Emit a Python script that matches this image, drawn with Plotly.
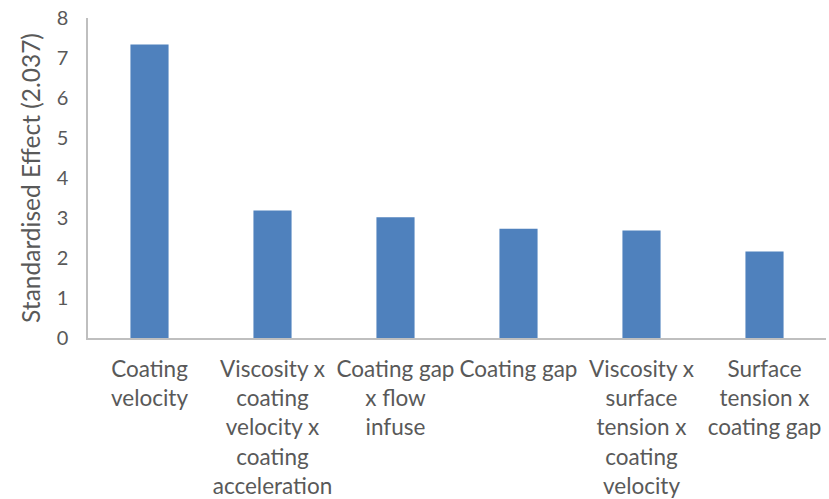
import plotly.graph_objects as go

categories = [
    "Coating<br>velocity",
    "Viscosity x<br>coating<br>velocity x<br>coating<br>acceleration",
    "Coating gap<br>x flow<br>infuse",
    "Coating gap",
    "Viscosity x<br>surface<br>tension x<br>coating<br>velocity",
    "Surface<br>tension x<br>coating gap",
]
values = [7.34, 3.19, 3.02, 2.73, 2.69, 2.16]
y_ticks = [0, 1, 2, 3, 4, 5, 6, 7, 8]

TEXT = "#595959"
FONT = "Lato"

fig = go.Figure(
    go.Bar(
        x=categories,
        y=values,
        marker=dict(color="#4F81BD", line=dict(width=0)),
        width=0.31,
        hoverinfo="skip",
    )
)

fig.update_layout(
    width=829,
    height=499,
    margin=dict(l=88, r=3, t=18, b=161),
    paper_bgcolor="white",
    plot_bgcolor="white",
    showlegend=False,
    font=dict(family=FONT, color=TEXT),
    bargap=0.69,
)

fig.update_xaxes(
    showline=True,
    linecolor="#BFBFBF",
    linewidth=1.5,
    showgrid=False,
    ticks="",
    tickangle=0,
    tickfont=dict(family=FONT, size=22.5, color=TEXT),
    ticklabelstandoff=10,
    automargin=False,
)

fig.update_yaxes(
    range=[0, 8],
    tickvals=y_ticks,
    showline=True,
    linecolor="#BFBFBF",
    linewidth=1.5,
    showgrid=False,
    zeroline=False,
    ticks="",
    tickfont=dict(family=FONT, size=20, color=TEXT),
    ticklabelstandoff=14,
    title=dict(text="Standardised Effect (2.037)", font=dict(family=FONT, size=24.5, color=TEXT), standoff=9),
    automargin=False,
)

fig.write_html(
    "out.html",
    config={"displayModeBar": False},
    post_script="document.body.style.margin='0';document.body.style.padding='0';",
)
